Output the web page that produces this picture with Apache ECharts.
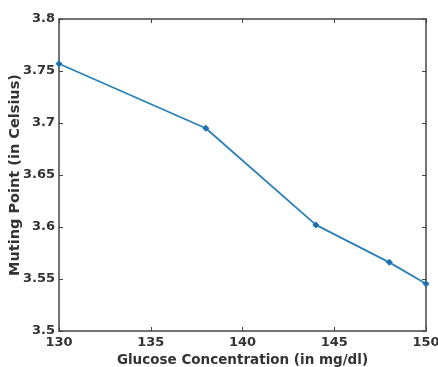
<!DOCTYPE html>
<html>
<head>
<meta charset="utf-8">
<script src="https://cdn.jsdelivr.net/npm/echarts@6/dist/echarts.min.js"></script>
<style>
  html, body { margin: 0; padding: 0; background: #fff; }
  #main { width: 438px; height: 367px; }
</style>
</head>
<body>
<div id="main"></div>
<script>
const glucose = [130, 138, 144, 148, 150];
const mutingPoint = [3.757, 3.695, 3.602, 3.566, 3.5455];
const xTicks = [130, 135, 140, 145, 150];
const yTicks = [3.5, 3.55, 3.6, 3.65, 3.7, 3.75, 3.8];

const axisColor = '#444';
const labelFont = { fontFamily: 'DejaVu Sans', fontWeight: 'bold', fontSize: 13, color: '#333' };

const chart = echarts.init(document.getElementById('main'));

const option = {
  animation: false,
  grid: { left: 59, top: 19, right: 12, bottom: 36, show: false, containLabel: false, outerBoundsMode: 'none' },
  xAxis: [{
    type: 'value',
    min: 130, max: 150, interval: 5,
    name: 'Glucose Concentration (in mg/dl)',
    nameLocation: 'middle',
    nameGap: 22,
    nameMoveOverlap: false,
    nameTextStyle: { fontFamily: 'DejaVu Sans', fontWeight: 'bold', fontSize: 13.5, color: '#333' },
    axisLine: { show: true, lineStyle: { color: axisColor, width: 1.5 } },
    axisTick: { show: true, inside: true, length: 4, lineStyle: { color: axisColor } },
    axisLabel: Object.assign({ margin: 5, formatter: v => xTicks.includes(v) ? String(v) : '' }, labelFont),
    splitLine: { show: false }
  }, {
    type: 'value', position: 'top',
    min: 130, max: 150, interval: 5,
    axisLine: { show: true, lineStyle: { color: axisColor, width: 1.5 } },
    axisTick: { show: true, inside: true, length: 4, lineStyle: { color: axisColor } },
    axisLabel: { show: false },
    splitLine: { show: false }
  }],
  yAxis: [{
    type: 'value',
    min: 3.5, max: 3.8, interval: 0.05,
    name: 'Muting Point (in Celsius)',
    nameLocation: 'middle',
    nameGap: 36,
    nameMoveOverlap: false,
    nameTextStyle: { fontFamily: 'DejaVu Sans', fontWeight: 'bold', fontSize: 14.5, color: '#333' },
    axisLine: { show: true, lineStyle: { color: axisColor, width: 1.5 } },
    axisTick: { show: true, inside: true, length: 4, lineStyle: { color: axisColor } },
    axisLabel: Object.assign({ margin: 4, formatter: v => {
      const t = yTicks.find(y => Math.abs(y - v) < 1e-6);
      return t === undefined ? '' : String(t);
    } }, labelFont),
    splitLine: { show: false }
  }, {
    type: 'value', position: 'right',
    min: 3.5, max: 3.8, interval: 0.05,
    axisLine: { show: true, lineStyle: { color: axisColor, width: 1.5 } },
    axisTick: { show: true, inside: true, length: 4, lineStyle: { color: axisColor } },
    axisLabel: { show: false },
    splitLine: { show: false }
  }],
  series: [{
    type: 'line',
    data: glucose.map((g, i) => [g, mutingPoint[i]]),
    symbol: 'diamond',
    symbolSize: 7,
    showSymbol: true,
    lineStyle: { color: '#2a80b9', width: 1.8 },
    itemStyle: { color: '#1f6fae' }
  }]
};

chart.setOption(option);
</script>
</body>
</html>
